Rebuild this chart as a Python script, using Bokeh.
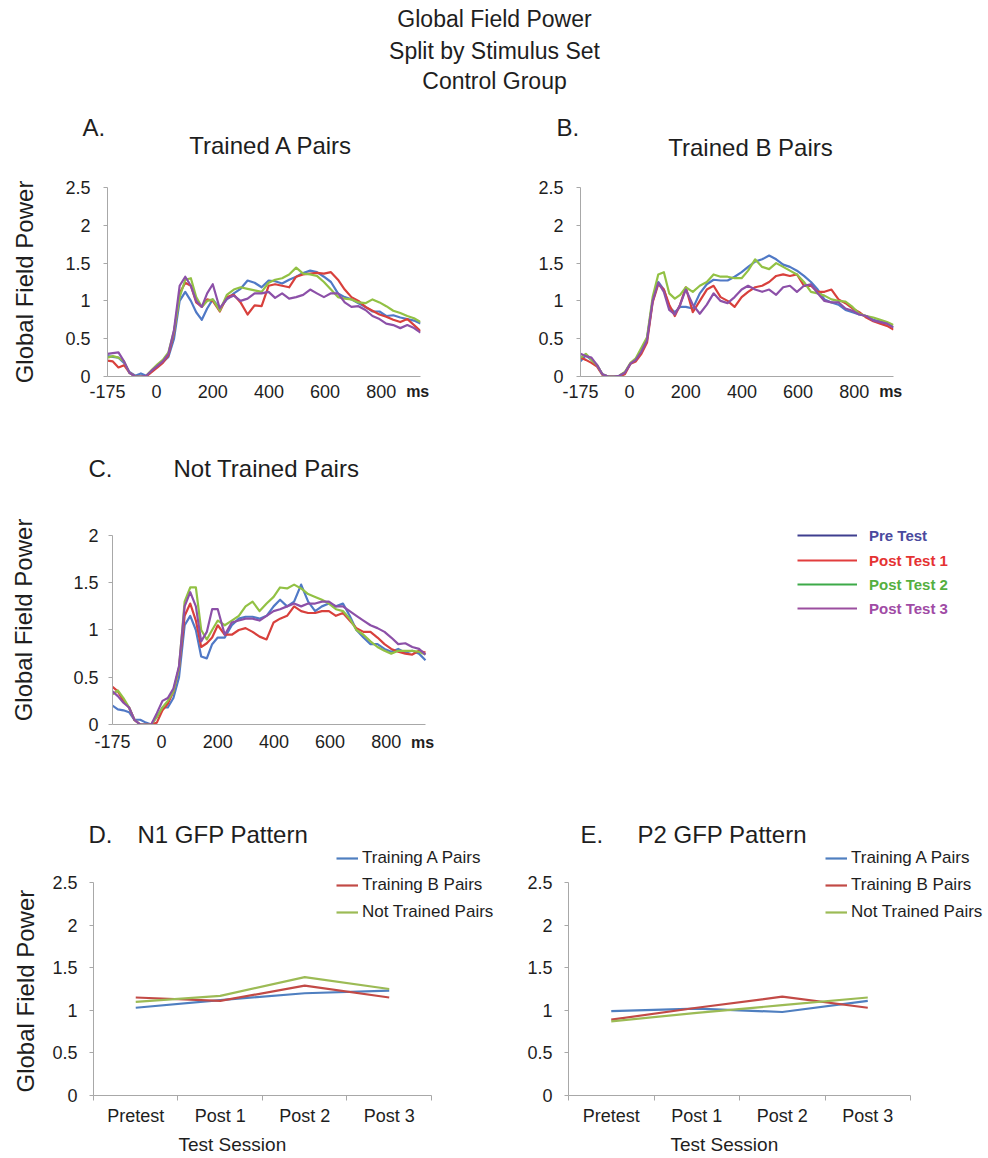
from bokeh.plotting import figure
from bokeh.models import (Range1d, Label, Legend, LegendItem, FixedTicker, CustomJSTickFormatter,
                          LinearAxis, Title)
from bokeh.layouts import column, row
from bokeh.embed import file_html
from bokeh.resources import INLINE

# ---------------- data ----------------
T_MS = [-175, -156, -136, -116, -97, -76, -56, -37, -17, 3, 22, 42, 62, 82, 102, 122, 141, 161, 180, 200,
        225, 250, 275, 299, 324, 349, 374, 399, 422, 447, 472, 497, 522, 547, 571, 596, 621, 646, 670, 694,
        719, 744, 769, 794, 818, 843, 868, 893, 917, 940]
X_TICKS = [-175, 0, 200, 400, 600, 800]
MS_UNIT_X = 930
Y_TICKS_25 = [0, 0.5, 1, 1.5, 2, 2.5]
Y_TICKS_20 = [0, 0.5, 1, 1.5, 2]

SESSIONS_LEGEND = ["Pre Test", "Post Test 1", "Post Test 2", "Post Test 3"]

A_PRE = [0.27, 0.26, 0.25, 0.18, 0.06, 0.01, 0.04, 0.01, 0.07, 0.13, 0.19, 0.26, 0.5, 1.0, 1.12, 1.0, 0.85, 0.75, 0.9, 1.02,
         0.9, 1.02, 1.1, 1.16, 1.27, 1.24, 1.18, 1.27, 1.26, 1.23, 1.28, 1.32, 1.37, 1.4, 1.38, 1.32, 1.25, 1.1, 1.05, 1.02,
         0.97, 0.92, 0.86, 0.86, 0.8, 0.81, 0.78, 0.76, 0.74, 0.7]
A_POST1 = [0.21, 0.2, 0.12, 0.15, 0.05, 0.0, 0.0, 0.0, 0.06, 0.12, 0.18, 0.28, 0.58, 1.1, 1.24, 1.2, 0.98, 0.92, 1.02, 1.0,
           0.86, 1.05, 1.08, 0.98, 0.82, 0.94, 0.93, 1.2, 1.22, 1.2, 1.18, 1.32, 1.35, 1.36, 1.37, 1.36, 1.38, 1.28, 1.15, 1.05,
           1.0, 0.92, 0.87, 0.82, 0.79, 0.75, 0.72, 0.76, 0.68, 0.6]
A_POST2 = [0.25, 0.27, 0.25, 0.2, 0.05, 0.0, 0.0, 0.01, 0.09, 0.16, 0.22, 0.32, 0.6, 1.05, 1.28, 1.3, 1.05, 0.92, 1.0, 1.02,
           0.87, 1.08, 1.15, 1.18, 1.16, 1.14, 1.12, 1.24, 1.28, 1.3, 1.35, 1.44, 1.36, 1.35, 1.33, 1.25, 1.15, 1.05, 1.03, 1.02,
           0.98, 0.97, 1.02, 0.98, 0.93, 0.87, 0.84, 0.8, 0.77, 0.72]
A_POST3 = [0.3, 0.31, 0.32, 0.2, 0.05, 0.0, 0.0, 0.01, 0.08, 0.14, 0.2, 0.3, 0.62, 1.2, 1.32, 1.2, 1.0, 0.92, 1.1, 1.22,
           0.9, 1.03, 1.07, 1.0, 1.03, 1.1, 1.1, 1.12, 1.04, 1.1, 1.03, 1.05, 1.08, 1.15, 1.1, 1.05, 1.1, 1.1, 0.98, 0.92,
           0.93, 0.88, 0.8, 0.76, 0.7, 0.68, 0.64, 0.68, 0.64, 0.58]

B_PRE = [0.2, 0.28, 0.22, 0.15, 0.03, 0.0, 0.0, 0.01, 0.05, 0.17, 0.22, 0.32, 0.5, 1.0, 1.25, 1.15, 0.92, 0.85, 0.92, 0.92,
         0.9, 1.1, 1.22, 1.28, 1.27, 1.27, 1.32, 1.38, 1.45, 1.52, 1.55, 1.6, 1.55, 1.48, 1.45, 1.4, 1.33, 1.25, 1.15, 1.02,
         0.98, 0.95, 0.88, 0.85, 0.82, 0.8, 0.75, 0.73, 0.7, 0.65]
B_POST1 = [0.25, 0.22, 0.18, 0.13, 0.02, 0.0, 0.0, 0.0, 0.03, 0.17, 0.2, 0.3, 0.45, 0.98, 1.22, 1.15, 0.95, 0.8, 0.95, 1.18,
           0.85, 1.0, 1.15, 1.2, 1.05, 1.0, 0.92, 1.05, 1.12, 1.18, 1.2, 1.25, 1.33, 1.35, 1.33, 1.35, 1.2, 1.2, 1.12, 1.12,
           1.15, 1.02, 0.97, 0.9, 0.85, 0.78, 0.73, 0.7, 0.67, 0.62]
B_POST2 = [0.25, 0.3, 0.22, 0.15, 0.03, 0.0, 0.0, 0.01, 0.06, 0.18, 0.24, 0.38, 0.52, 1.05, 1.35, 1.38, 1.1, 1.03, 1.08, 1.18,
           1.12, 1.2, 1.25, 1.35, 1.32, 1.32, 1.3, 1.3, 1.4, 1.55, 1.45, 1.42, 1.5, 1.45, 1.4, 1.35, 1.25, 1.12, 1.1, 1.07,
           1.02, 1.0, 0.99, 0.92, 0.83, 0.8, 0.78, 0.75, 0.72, 0.68]
B_POST3 = [0.3, 0.27, 0.25, 0.15, 0.03, 0.0, 0.0, 0.01, 0.05, 0.17, 0.22, 0.33, 0.48, 1.0, 1.24, 1.12, 0.88, 0.82, 0.95, 1.15,
           0.95, 0.83, 0.95, 1.1, 1.0, 0.97, 1.05, 1.15, 1.2, 1.15, 1.12, 1.15, 1.08, 1.18, 1.2, 1.12, 1.2, 1.22, 1.1, 1.0,
           0.98, 0.98, 0.9, 0.87, 0.82, 0.8, 0.74, 0.72, 0.7, 0.65]

C_PRE = [0.2, 0.16, 0.15, 0.13, 0.05, 0.05, 0.02, 0.0, 0.08, 0.18, 0.18, 0.28, 0.5, 1.05, 1.15, 1.0, 0.72, 0.7, 0.85, 0.92,
         0.92, 1.05, 1.12, 1.14, 1.14, 1.12, 1.15, 1.25, 1.32, 1.25, 1.3, 1.48, 1.3, 1.2, 1.25, 1.28, 1.25, 1.28, 1.15, 1.0,
         0.92, 0.85, 0.85, 0.8, 0.77, 0.8, 0.76, 0.78, 0.75, 0.68]
C_POST1 = [0.4, 0.35, 0.25, 0.18, 0.05, 0.0, 0.0, 0.0, 0.02, 0.15, 0.22, 0.35, 0.6, 1.15, 1.28, 1.1, 0.82, 0.86, 0.92, 1.05,
           0.95, 0.95, 1.0, 1.02, 0.98, 0.93, 0.9, 1.08, 1.12, 1.15, 1.25, 1.2, 1.18, 1.18, 1.2, 1.2, 1.15, 1.18, 1.1, 1.02,
           0.98, 0.98, 0.92, 0.85, 0.8, 0.77, 0.75, 0.74, 0.78, 0.76]
C_POST2 = [0.32, 0.36, 0.28, 0.18, 0.05, 0.0, 0.0, 0.0, 0.08, 0.18, 0.25, 0.35, 0.6, 1.3, 1.45, 1.45, 1.0, 0.9, 1.0, 1.1,
           1.05, 1.1, 1.15, 1.25, 1.3, 1.2, 1.28, 1.35, 1.45, 1.44, 1.48, 1.44, 1.38, 1.35, 1.32, 1.28, 1.22, 1.2, 1.12, 1.0,
           0.95, 0.88, 0.82, 0.78, 0.75, 0.78, 0.78, 0.78, 0.77, 0.74]
C_POST3 = [0.35, 0.3, 0.23, 0.18, 0.05, 0.0, 0.0, 0.0, 0.12, 0.25, 0.28, 0.38, 0.62, 1.25, 1.4, 1.25, 0.88, 0.98, 1.22, 1.22,
           0.95, 1.08, 1.1, 1.12, 1.12, 1.1, 1.15, 1.2, 1.22, 1.25, 1.28, 1.25, 1.28, 1.28, 1.3, 1.3, 1.25, 1.25, 1.2, 1.15,
           1.1, 1.05, 1.02, 0.98, 0.92, 0.85, 0.86, 0.82, 0.8, 0.74]

SESSIONS = ["Pretest", "Post 1", "Post 2", "Post 3"]
STIM_SETS = ["Training A Pairs", "Training B Pairs", "Not Trained Pairs"]
N1_A = [1.03, 1.12, 1.20, 1.23]
N1_B = [1.15, 1.11, 1.29, 1.15]
N1_NT = [1.10, 1.17, 1.39, 1.25]
P2_A = [0.99, 1.02, 0.98, 1.11]
P2_B = [0.89, 1.03, 1.16, 1.03]
P2_NT = [0.87, 0.97, 1.06, 1.15]

# ---------------- style ----------------
FONT = "Liberation Sans"
TXT = "#1e1e1e"
AXC = "#a8a8a8"
TS_COLORS = ["#5079c6", "#d8403c", "#92c144", "#8c50a8"]
LEG_LINE = ["#3f3f8f", "#e23d3d", "#3daa48", "#9b4f9f"]
LEG_TEXT = ["#4a4a9e", "#e53232", "#55af3f", "#a04ba5"]
DE_COLORS = ["#4f7fc0", "#c24a46", "#9cbb55"]
NAN = float("nan")


def base_fig(fw, fh, bl, br, bt, bb, xr, yr):
    p = figure(frame_width=fw, frame_height=fh, min_border_left=bl, min_border_right=br,
               min_border_top=bt, min_border_bottom=bb, x_range=Range1d(*xr), y_range=Range1d(*yr),
               toolbar_location=None, output_backend="svg")
    p.outline_line_color = None
    p.xgrid.visible = False
    p.ygrid.visible = False
    for ax in (p.xaxis[0], p.yaxis[0]):
        ax.axis_line_color = AXC
        ax.axis_line_width = 1
        ax.major_label_text_font = FONT
        ax.major_label_text_font_size = "18px"
        ax.major_label_text_color = TXT
        ax.axis_label_text_font = FONT
        ax.axis_label_text_font_style = "normal"
        ax.axis_label_text_color = TXT
        ax.minor_tick_line_color = None
    return p


def text_fig(h):
    f = figure(frame_width=988, frame_height=h, min_border=0, x_range=Range1d(0, 988), y_range=Range1d(0, h),
               x_axis_type=None, y_axis_type=None, toolbar_location=None, output_backend="svg")
    f.outline_line_color = None
    return f


def label(p, text, x, y, size, align="left", style="normal", color=TXT, baseline="middle"):
    p.add_layout(Label(x=x, y=y, x_units="screen", y_units="screen", text=text, text_font=FONT,
                       text_font_size=size, text_align=align, text_baseline=baseline,
                       text_color=color, text_font_style=style))


def style_y(p, ticks, standoff, ylabel=None, lab_standoff=20, bounds=None):
    ax = p.yaxis[0]
    ax.ticker = FixedTicker(ticks=ticks)
    ax.formatter = CustomJSTickFormatter(code="return tick.toString()")
    ax.major_tick_line_color = AXC
    ax.major_tick_out = 4
    ax.major_tick_in = 0
    ax.major_label_standoff = standoff
    if bounds is not None:
        ax.bounds = bounds
    if ylabel:
        ax.axis_label = ylabel
        ax.axis_label_text_font_size = "24px"
        ax.axis_label_standoff = lab_standoff


def ts_panel(fw, fh, bl, br, bt, bb, xr, yr, yticks, series, xstand, ylabel, ylab_stand, ystand,
             ms_stand, xbounds=None, ybounds=None):
    p = base_fig(fw, fh, bl, br, bt, bb, xr, yr)
    for vals, col in zip(series, TS_COLORS):
        p.line(T_MS, vals, line_color=col, line_width=2.2, line_join="round")
    ax = p.xaxis[0]
    ax.ticker = FixedTicker(ticks=X_TICKS)
    ax.formatter = CustomJSTickFormatter(code="return tick.toString()")
    ax.major_tick_line_color = None
    ax.major_tick_out = 0
    ax.major_tick_in = 0
    ax.major_label_standoff = xstand
    if xbounds is not None:
        ax.bounds = xbounds
    style_y(p, yticks, ystand, ylabel, ylab_stand, ybounds)
    ms_ax = LinearAxis(ticker=FixedTicker(ticks=[MS_UNIT_X]),
                       formatter=CustomJSTickFormatter(code="return 'ms'"),
                       axis_line_color=None, major_tick_line_color=None, minor_tick_line_color=None,
                       major_tick_out=0, major_tick_in=0, major_label_standoff=ms_stand,
                       major_label_text_font=FONT, major_label_text_font_size="16px",
                       major_label_text_font_style="bold", major_label_text_color=TXT)
    p.add_layout(ms_ax, "below")
    return p


# ---------------- top texts ----------------
top = text_fig(172)
for txt, yy in zip(["Global Field Power", "Split by Stimulus Set", "Control Group"], [154, 122, 92]):
    label(top, txt, 494, yy, "23px", align="center")
label(top, "A.", 82, 45, "24px")
label(top, "Trained A Pairs", 271, 27, "24px", align="center")
label(top, "B.", 556, 45, "24px")
label(top, "Trained B Pairs", 750, 25, "24px", align="center")

# ---------------- panels A, B ----------------
pA = ts_panel(313, 189, 107, 74, 15, 34, (-175, 940), (0, 2.5), Y_TICKS_25,
              [A_PRE, A_POST1, A_POST2, A_POST3], 8, "Global Field Power", 24, 13, -18)
pB = ts_panel(313, 189, 86, 95, 15, 34, (-175, 940), (0, 2.5), Y_TICKS_25,
              [B_PRE, B_POST1, B_POST2, B_POST3], 8, None, 0, 13, -18)

# ---------------- panel C ----------------
mid = text_fig(85)
label(mid, "C.", 88, 27, "24px")
label(mid, "Not Trained Pairs", 173, 27, "24px")

pC = ts_panel(871, 209, 112, 5, 20, 66, (-175, 2928), (0, 2.2116), Y_TICKS_20,
              [C_PRE, C_POST1, C_POST2, C_POST3], 10, "Global Field Power", 33, 10, -17,
              xbounds=(-175, 940), ybounds=(0, 2))

leg_centers = [535, 560, 584, 608]
for name, lc, tc, cy in zip(SESSIONS_LEGEND, LEG_LINE, LEG_TEXT, leg_centers):
    r = pC.line(x=[NAN, NAN], y=[NAN, NAN], line_color=lc, line_width=2)
    leg = Legend(items=[LegendItem(label=name, renderers=[r])], location=(685, 724 - (cy + 10)),
                 glyph_width=60, glyph_height=20, label_height=20, label_standoff=12,
                 padding=0, margin=0, border_line_color=None, background_fill_alpha=0,
                 label_text_font=FONT, label_text_font_size="15px", label_text_font_style="bold",
                 label_text_color=tc)
    pC.add_layout(leg)

# ---------------- panels D / E ----------------
bot = text_fig(58)
label(bot, "D.", 88, 14, "24px")
label(bot, "N1 GFP Pattern", 137, 14, "24px")
label(bot, "E.", 580, 14, "24px")
label(bot, "P2 GFP Pattern", 637, 14, "24px")


def de_panel(fw, bl, x_end, series, leg_x, xlab_offset, ylabel):
    p = base_fig(fw, 247, bl, 0, 0, 63, (0, x_end), (0, 2.899))
    xs = [i + 0.5 for i in range(len(SESSIONS))]
    rends = []
    for vals, col in zip(series, DE_COLORS):
        rends.append(p.line(xs, vals, line_color=col, line_width=2.2))
    ax = p.xaxis[0]
    ax.bounds = (0, len(SESSIONS))
    ax.ticker = FixedTicker(ticks=xs, minor_ticks=list(range(len(SESSIONS) + 1)))
    ax.formatter = CustomJSTickFormatter(args=dict(labels=SESSIONS), code="return labels[Math.floor(tick)]")
    ax.major_tick_line_color = None
    ax.major_tick_out = 0
    ax.major_tick_in = 0
    ax.minor_tick_line_color = AXC
    ax.minor_tick_out = 5
    ax.minor_tick_in = 0
    ax.major_label_standoff = 5
    style_y(p, Y_TICKS_25, 12, None, 0, (0, 2.5))
    p.add_layout(Title(text="Test Session", align="left", offset=xlab_offset, vertical_align="bottom",
                       standoff=6, text_font=FONT, text_font_size="19px", text_font_style="normal",
                       text_color=TXT), "below")
    if ylabel:
        p.add_layout(Title(text=ylabel, align="left", offset=3, vertical_align="middle", standoff=19,
                           text_font=FONT, text_font_size="24px", text_font_style="normal",
                           text_color=TXT), "left")
    leg = Legend(items=[LegendItem(label=n, renderers=[r]) for n, r in zip(STIM_SETS, rends)],
                 location=(leg_x, 173), glyph_width=22, glyph_height=20, label_height=20, spacing=7,
                 label_standoff=4, padding=0, margin=0, border_line_color=None, background_fill_alpha=0,
                 label_text_font=FONT, label_text_font_size="17px", label_text_color=TXT)
    p.add_layout(leg)
    return p


pD = de_panel(401, 93, 4.746, [N1_A, N1_B, N1_NT], 243, 85, "Global Field Power")
pE = de_panel(420, 74, 4.912, [P2_A, P2_B, P2_NT], 257, 102, None)

page = column(row(top), row(pA, pB), row(mid), row(pC), row(bot), row(pD, pE))

open("out.html", "w").write(file_html(page, INLINE))
